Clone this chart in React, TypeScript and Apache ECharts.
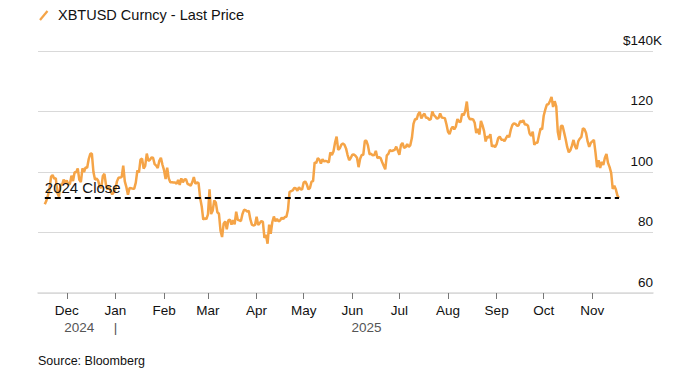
import React, { useEffect, useRef } from 'react';
import * as echarts from 'echarts';

// Daily last price, thousands of USD
const nov2024 = [89.3, 90.5, 92.3, 94.3, 98.5, 99.0, 97.8, 98.0, 93.1, 91.9, 95.9, 95.7, 97.5, 96.4]; // from Nov 17
const dec2024 = [97.2, 95.9, 96.0, 98.8, 97.0, 99.9, 99.9, 101.2, 97.4, 96.7, 101.2, 100.0, 101.5, 101.4, 104.3, 106.0, 106.1, 100.0, 97.5, 97.8, 97.2, 95.1, 94.7, 98.7, 99.4, 95.8, 94.2, 95.2, 93.6, 92.6, 93.4];
const jan2025 = [94.4, 96.9, 98.1, 98.2, 98.3, 102.1, 96.9, 95.0, 92.5, 94.7, 94.6, 94.5, 94.5, 96.5, 100.5, 99.8, 104.1, 104.4, 101.1, 102.0, 106.1, 103.7, 104.0, 104.8, 104.7, 102.6, 102.1, 101.3, 103.7, 104.7, 102.4];
const feb2025 = [100.6, 97.7, 101.4, 97.9, 96.6, 96.6, 96.5, 96.5, 96.1, 97.4, 95.7, 97.9, 96.6, 97.5, 97.6, 96.1, 95.8, 95.5, 96.6, 98.3, 96.1, 96.6, 96.3, 91.5, 88.7, 84.3, 84.7, 84.4];
const mar2025 = [86.0, 94.3, 86.1, 87.2, 90.6, 89.9, 86.7, 86.2, 80.6, 78.5, 82.9, 83.7, 81.1, 84.0, 84.3, 82.6, 84.1, 82.7, 86.9, 84.2, 84.0, 83.8, 86.1, 87.5, 87.4, 86.9, 87.2, 84.4, 82.6, 82.3, 82.5];
const apr2025 = [85.2, 82.5, 83.1, 83.8, 83.5, 78.2, 79.2, 76.3, 82.6, 79.6, 83.4, 85.3, 83.7, 84.5, 83.7, 84.0, 84.9, 84.5, 85.1, 85.2, 87.5, 93.4, 93.7, 93.9, 94.7, 94.6, 93.8, 95.0, 94.3, 94.2];
const may2025 = [96.5, 96.9, 95.9, 94.3, 94.7, 96.8, 97.0, 103.2, 102.9, 104.6, 104.1, 102.8, 104.2, 103.5, 103.7, 103.5, 103.1, 106.5, 105.6, 106.8, 109.7, 111.7, 107.3, 107.8, 109.0, 109.4, 109.0, 107.8, 105.6, 103.9, 104.6];
const jun2025 = [105.7, 105.8, 105.4, 104.7, 101.6, 104.4, 105.6, 105.7, 110.3, 110.3, 108.7, 105.9, 106.0, 105.5, 105.6, 107.0, 104.6, 104.9, 104.6, 103.3, 102.1, 100.9, 105.5, 106.0, 107.3, 106.9, 107.1, 107.3, 108.4, 107.1];
const jul2025 = [105.7, 108.9, 109.6, 108.0, 108.2, 109.2, 108.3, 108.9, 111.3, 115.9, 117.5, 117.4, 119.1, 119.8, 117.7, 118.7, 119.3, 117.9, 117.9, 117.3, 117.4, 120.0, 118.8, 118.3, 117.6, 117.9, 119.4, 118.0, 117.9, 117.8, 115.8];
const aug2025 = [113.3, 112.5, 114.2, 115.0, 114.1, 115.0, 117.5, 116.7, 116.5, 119.3, 118.7, 120.2, 123.3, 118.4, 117.4, 117.5, 117.4, 116.3, 112.9, 114.3, 112.4, 116.9, 115.4, 113.5, 110.1, 111.8, 111.3, 112.5, 108.4, 108.8, 108.2];
const sep2025 = [109.2, 111.2, 111.7, 110.7, 110.7, 110.2, 111.2, 112.1, 111.5, 113.9, 115.5, 116.1, 115.9, 115.3, 115.4, 116.8, 116.5, 117.1, 115.7, 115.7, 115.3, 112.7, 112.0, 113.3, 109.0, 109.7, 109.7, 112.1, 114.4, 114.1];
const oct2025 = [118.6, 120.6, 122.3, 122.4, 123.5, 124.8, 121.5, 123.4, 121.7, 113.2, 110.6, 115.2, 115.3, 113.1, 110.8, 108.2, 106.5, 107.2, 108.7, 110.6, 108.5, 107.6, 110.1, 111.0, 111.6, 114.5, 114.1, 112.9, 110.1, 108.3, 109.6];
const nov2025 = [110.1, 110.6, 106.5, 101.6, 103.9, 101.3, 103.4, 102.3, 104.7, 106.0, 103.0, 101.6, 99.7, 94.4, 95.5, 94.2, 92.2, 91.4];

// [year, monthIndex, first day, values]
const monthBlocks: [number, number, number, number[]][] = [
  [2024, 10, 17, nov2024], [2024, 11, 1, dec2024], [2025, 0, 1, jan2025], [2025, 1, 1, feb2025],
  [2025, 2, 1, mar2025], [2025, 3, 1, apr2025], [2025, 4, 1, may2025], [2025, 5, 1, jun2025],
  [2025, 6, 1, jul2025], [2025, 7, 1, aug2025], [2025, 8, 1, sep2025], [2025, 9, 1, oct2025],
  [2025, 10, 1, nov2025],
];

const close2024 = 91.5;
const closeLabel = '2024 Close';

const monthTickDates: [number, number, number][] = [
  [2024, 11, 1], [2025, 0, 1], [2025, 1, 1], [2025, 2, 1], [2025, 3, 1], [2025, 4, 1],
  [2025, 5, 1], [2025, 6, 1], [2025, 7, 1], [2025, 8, 1], [2025, 9, 1], [2025, 10, 1],
];
const monthTickLabels = ['Dec', 'Jan', 'Feb', 'Mar', 'Apr', 'May', 'Jun', 'Jul', 'Aug', 'Sep', 'Oct', 'Nov'];
const yearLabelDates: [number, number, number][] = [[2024, 11, 9], [2025, 0, 1], [2025, 5, 10]];
const yearLabels = ['2024', '|', '2025'];
const axisStart: [number, number, number, number] = [2024, 10, 12, 16];
const axisEnd: [number, number, number, number] = [2025, 11, 9, 16];

const FONT = '"Liberation Sans", Arial, Helvetica, sans-serif';
const ORANGE = '#F5A447';

export default function App() {
  const ref = useRef<HTMLDivElement>(null);
  useEffect(() => {
    if (!ref.current) return;
    const chart = echarts.init(ref.current, null, { renderer: 'svg' });

    const data: [number, number][] = [];
    monthBlocks.forEach(([y, m, d0, vals]) => {
      vals.forEach((v, i) => data.push([Date.UTC(y, m, d0 + i), v]));
    });
    const tickTs = monthTickDates.map(([y, m, d]) => Date.UTC(y, m, d));
    const yearTs = yearLabelDates.map(([y, m, d]) => Date.UTC(y, m, d));
    const minTs = Date.UTC(axisStart[0], axisStart[1], axisStart[2], axisStart[3]);
    const maxTs = Date.UTC(axisEnd[0], axisEnd[1], axisEnd[2], axisEnd[3]);
    const nearest = (arr: number[], v: number) => {
      let bi = 0;
      arr.forEach((t, i) => { if (Math.abs(t - v) < Math.abs(arr[bi] - v)) bi = i; });
      return bi;
    };

    chart.setOption({
      animation: false,
      grid: { left: 38, right: 46, top: 51, bottom: 93, containLabel: false },
      xAxis: [
        {
          type: 'value', min: minTs, max: maxTs, scale: true,
          axisLine: { show: true, lineStyle: { color: '#dadada', width: 1.5 } },
          axisTick: { show: true, customValues: tickTs, length: 6, lineStyle: { color: '#777', width: 1 } },
          axisLabel: {
            customValues: tickTs, margin: 10, fontSize: 13.5, color: '#111', fontFamily: FONT,
            formatter: (v: number) => monthTickLabels[nearest(tickTs, v)],
          },
          splitLine: { show: false },
        },
        {
          type: 'value', min: minTs, max: maxTs, scale: true, position: 'bottom',
          axisLine: { show: false }, axisTick: { show: false }, splitLine: { show: false },
          axisLabel: {
            customValues: yearTs, margin: 27, fontSize: 13.5, color: '#555', fontFamily: FONT,
            formatter: (v: number) => yearLabels[nearest(yearTs, v)],
          },
        },
      ],
      yAxis: {
        type: 'value', position: 'right', min: 60, max: 140, interval: 20,
        axisLine: { show: false }, axisTick: { show: false },
        splitLine: { show: true, lineStyle: { color: '#d9d9d9', width: 1 } },
        axisLabel: {
          inside: true, margin: -9, verticalAlign: 'bottom',
          formatter: (v: number) => (v === 140 ? '{a|$140K}' : `{b|${v}}`),
          rich: {
            a: { fontSize: 13.5, color: '#111', fontFamily: FONT, padding: [0, 0, 4, 0] },
            b: { fontSize: 13.5, color: '#111', fontFamily: FONT, padding: [0, 9, 4, 0] },
          },
        },
      },
      series: [
        {
          type: 'line', data, showSymbol: false, symbol: 'none',
          lineStyle: { color: ORANGE, width: 2.5 }, itemStyle: { color: ORANGE },
          markLine: {
            silent: true, symbol: 'none',
            lineStyle: { color: '#000', width: 1.8, type: [6, 4] },
            label: {
              show: true, position: 'insideStartTop', formatter: closeLabel,
              fontSize: 15, color: '#111', fontFamily: FONT, distance: [0, 3],
            },
            data: [[{ coord: [data[0][0], close2024] }, { coord: [data[data.length - 1][0], close2024] }]],
          },
        },
      ],
      graphic: [
        { type: 'line', shape: { x1: 40, y1: 20, x2: 47.5, y2: 11 }, style: { stroke: ORANGE, lineWidth: 2.2 } },
        {
          type: 'text', x: 58, y: 15,
          style: { text: 'XBTUSD Curncy - Last Price', fontSize: 14.5, fontFamily: FONT, fill: '#111', verticalAlign: 'middle' },
        },
        {
          type: 'text', x: 38, y: 361,
          style: { text: 'Source: Bloomberg', fontSize: 12.5, fontFamily: FONT, fill: '#111', verticalAlign: 'middle' },
        },
      ],
    });
    return () => chart.dispose();
  }, []);
  return <div ref={ref} style={{ position: 'fixed', left: 0, top: 0, width: 699, height: 386, background: '#fff' }} />;
}
